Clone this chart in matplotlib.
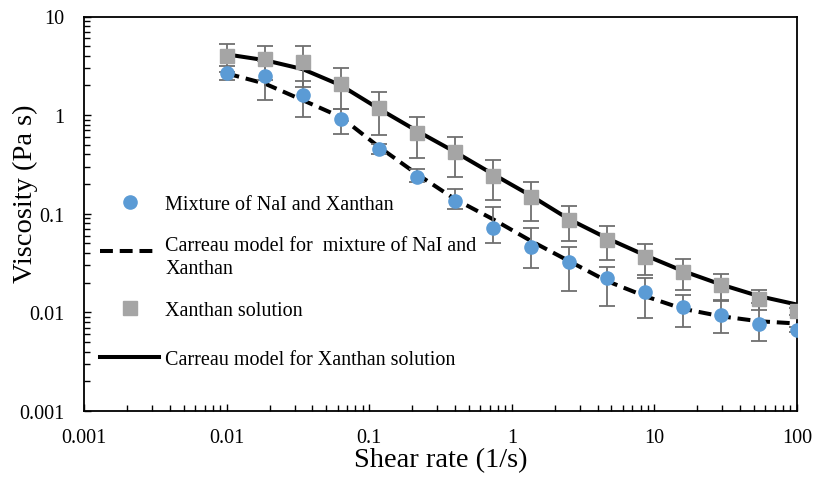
import matplotlib
matplotlib.use("Agg")
import matplotlib.pyplot as plt
from matplotlib.ticker import LogLocator, FixedLocator, NullFormatter
from matplotlib.legend_handler import HandlerLine2D

plt.rcParams['font.family'] = ['Liberation Serif', 'DejaVu Serif']

# Shear rate (1/s)
shear_rate = [0.01, 0.0185, 0.0341, 0.063, 0.1166, 0.215, 0.398, 0.735,
              1.36, 2.51, 4.64, 8.58, 15.8, 29.2, 54.0, 100.0]

# Mixture of NaI and Xanthan (measured)
mix_visc = [2.69, 2.48, 1.59, 0.906, 0.449, 0.238, 0.1356, 0.0712,
            0.0455, 0.0325, 0.0223, 0.0161, 0.0114, 0.0093, 0.0077, 0.0067]
mix_err_low = [0.43, 1.06, 0.63, 0.26, 0.05, 0.03, 0.024, 0.0206,
               0.017, 0.0161, 0.0107, 0.0073, 0.0043, 0.0031, 0.0026, 0.0004]
mix_err_high = [0.43, 1.06, 0.63, 0.26, 0.06, 0.047, 0.043, 0.045,
                0.026, 0.013, 0.0068, 0.0064, 0.0036, 0.0039, 0.0048, 0.0004]

# Xanthan solution (measured)
xan_visc = [3.97, 3.67, 3.48, 2.08, 1.18, 0.664, 0.422, 0.2438,
            0.1469, 0.0869, 0.0543, 0.0368, 0.0259, 0.0188, 0.01375, 0.01028]
xan_err = [1.25, 1.40, 1.54, 0.92, 0.55, 0.30, 0.185, 0.105,
           0.063, 0.034, 0.020, 0.0127, 0.0089, 0.0057, 0.0033, 0.0008]

# Carreau model curves
mix_model = [2.65, 2.09, 1.42, 0.959, 0.478, 0.254, 0.141, 0.0883,
             0.0531, 0.0332, 0.0208, 0.01462, 0.01088, 0.00914, 0.00813, 0.00771]
xan_model = [4.13, 3.61, 2.93, 2.01, 1.164, 0.695, 0.425, 0.253,
             0.1525, 0.0883, 0.0566, 0.0380, 0.0263, 0.0192, 0.01462, 0.0120]

labels = ["Mixture of NaI and Xanthan",
          "Carreau model for  mixture of NaI and\nXanthan",
          "Xanthan solution",
          "Carreau model for Xanthan solution"]

W, H = 814, 481
AX_L, AX_R, AX_T, AX_B = 84, 797, 17.5, 412

fig = plt.figure(figsize=(W/100, H/100), dpi=100)
ax = fig.add_axes([AX_L/W, 1-AX_B/H, (AX_R-AX_L)/W, (AX_B-AX_T)/H])

fs = 14.5
fs_title = 20.5
err_color = '#6f6f6f'

l_mix_model, = ax.plot(shear_rate, mix_model, color='black', lw=2.9,
                       linestyle=(0, (3.2, 1.7)), zorder=2, label=labels[1])
l_xan_model, = ax.plot(shear_rate, xan_model, color='black', lw=2.9,
                       linestyle='-', zorder=2, label=labels[3])

ax.errorbar(shear_rate, mix_visc, yerr=[mix_err_low, mix_err_high], fmt='none',
            ecolor=err_color, elinewidth=1.3, capsize=5.5, capthick=1.3, zorder=3)
ax.errorbar(shear_rate, xan_visc, yerr=xan_err, fmt='none',
            ecolor=err_color, elinewidth=1.3, capsize=5.5, capthick=1.3, zorder=3)

l_mix, = ax.plot(shear_rate, mix_visc, linestyle='none', marker='o', ms=9.5,
                 color='#5B9BD5', mec='#5B9BD5', zorder=4, label=labels[0])
l_xan, = ax.plot(shear_rate, xan_visc, linestyle='none', marker='s', ms=9.5,
                 color='#A5A5A5', mec='#A5A5A5', zorder=4, label=labels[2])

ax.set_xscale('log')
ax.set_yscale('log')
ax.set_xlim(0.001, 100)
ax.set_ylim(0.001, 10)

ax.xaxis.set_major_locator(FixedLocator([0.001, 0.01, 0.1, 1, 10, 100]))
ax.yaxis.set_major_locator(FixedLocator([0.001, 0.01, 0.1, 1, 10]))
ax.set_xticklabels(['0.001', '0.01', '0.1', '1', '10', '100'])
ax.set_yticklabels(['0.001', '0.01', '0.1', '1', '10'])
ax.xaxis.set_minor_locator(LogLocator(base=10, subs=range(2, 10), numticks=20))
ax.yaxis.set_minor_locator(LogLocator(base=10, subs=range(2, 10), numticks=20))
ax.xaxis.set_minor_formatter(NullFormatter())
ax.yaxis.set_minor_formatter(NullFormatter())

ax.tick_params(axis='both', which='both', direction='in', top=False, right=False,
               color='black', width=1.0)
ax.tick_params(axis='both', which='major', length=5, labelsize=fs)
ax.tick_params(axis='both', which='minor', length=4)
ax.tick_params(axis='y', which='major', pad=14)
ax.tick_params(axis='x', which='major', pad=12)

for s in ax.spines.values():
    s.set_linewidth(1.3)
    s.set_color('black')

axh = AX_B - AX_T
axw = AX_R - AX_L
ax.set_xlabel('Shear rate (1/s)', fontsize=fs_title)
ax.set_ylabel('Viscosity (Pa s)', fontsize=fs_title)
ax.xaxis.set_label_coords(0.5, (AX_B - 448) / axh)
ax.yaxis.set_label_coords((38.5 - AX_L) / axw, (AX_B - 194) / axh)


class RaisedLine(HandlerLine2D):
    """Put the legend line level with the first line of a two-line label."""
    def create_artists(self, legend, orig_handle, xdescent, ydescent,
                       width, height, fontsize, trans):
        return super().create_artists(legend, orig_handle, xdescent,
                                      ydescent - 9, width, height, fontsize, trans)


common = dict(loc='upper left', frameon=False, fontsize=fs, handlelength=2.95,
              handletextpad=0.3, borderpad=0, borderaxespad=0)

leg1 = ax.legend(handles=[l_mix, l_mix_model, l_xan],
                 bbox_to_anchor=((100 - AX_L) / axw, (AX_B - 196) / axh),
                 labelspacing=1.1, handler_map={l_mix_model: RaisedLine()},
                 **common)
leg1.get_texts()[1].set_linespacing(1.3)
ax.add_artist(leg1)

leg2 = ax.legend(handles=[l_xan_model],
                 bbox_to_anchor=((100 - AX_L) / axw, (AX_B - 351) / axh),
                 **common)

fig.savefig('out.png', dpi=100)
